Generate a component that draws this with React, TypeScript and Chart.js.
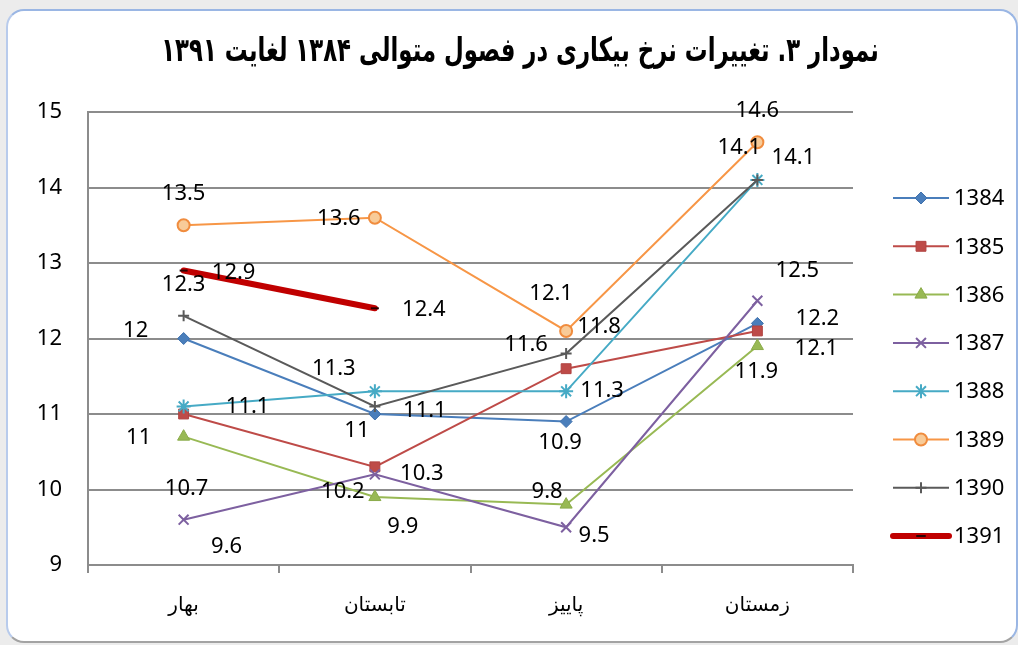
import React, { useEffect, useRef } from 'react';
import { Chart, registerables } from 'chart.js';

Chart.register(...registerables);

// ---------- data ----------
const TITLE = 'نمودار ۳. تغییرات نرخ بیکاری در فصول متوالی ۱۳۸۴ لغایت ۱۳۹۱';
const CATEGORIES = ['بهار', 'تابستان', 'پاییز', 'زمستان'];
const SERIES_NAMES = ['1384', '1385', '1386', '1387', '1388', '1389', '1390', '1391'];
const S1384 = [12, 11, 10.9, 12.2];
const S1385 = [11, 10.3, 11.6, 12.1];
const S1386 = [10.7, 9.9, 9.8, 11.9];
const S1387 = [9.6, 10.2, 9.5, 12.5];
const S1388 = [11.1, 11.3, 11.3, 14.1];
const S1389 = [13.5, 13.6, 12.1, 14.6];
const S1390 = [12.3, 11.1, 11.8, 14.1];
const S1391 = [12.9, 12.4, null, null];
const Y_MIN = 9;
const Y_MAX = 15;
const Y_STEP = 1;

const SERIES_VALUES = [S1384, S1385, S1386, S1387, S1388, S1389, S1390, S1391];

// ---------- styles ----------
const LINE_COLORS = ['#4a7ebb', '#be4b48', '#98b954', '#7d60a0', '#46aac5', '#f79646', '#5a5a5a', '#c00000'];
const POINT_FILLS = ['#4a7ebb', '#be4b48', '#98b954', '#7d60a0', '#46aac5', '#f8cb98', '#5a5a5a', '#2a0000'];
const POINT_STROKES = ['#3f71ad', '#b04340', '#8aab49', '#7d60a0', '#46aac5', '#f08c3e', '#5a5a5a', '#2a0000'];
const POINT_STYLES = ['rectRot', 'rect', 'triangle', 'crossRot', 'star', 'circle', 'cross', 'line'];
const POINT_RADII = [6, 7, 7, 7, 7, 6, 5.5, 4];
const POINT_BORDER = [1, 1, 1, 2, 2, 2, 2, 2];
const LINE_WIDTHS = [2, 2, 2, 2, 2, 2, 2, 6];

// data-label offsets (dx, dy) relative to each point, in px
const LABEL_OFFSETS: number[][][] = [
  [[-48, -8], [-18, 17], [-6, 21], [60, -5]],
  [[-45, 24], [47, 7], [-40, -24], [59, 18]],
  [[3, 52], [28, 30], [-19, -13], [-1, 26]],
  [[43, 27], [-32, 17], [28, 8], [40, -30]],
  [[64, 0], [-41, -23], [36, -1], [36, -22]],
  [[0, -32], [-36, 1], [-15, -37], [0, -31]],
  [[0, -31], [50, 4], [33, -27], [-18, -32]],
  [[50, 2], [49, 1]],
];

const NUM_FONT = '"Noto Sans", "Open Sans", sans-serif';
const FA_FONT = '"DejaVu Sans", sans-serif';
const TITLE_FONT = '"DejaVu Sans Condensed", "DejaVu Sans", sans-serif';
const GRID_COLOR = '#8c8c8c';

function drawMarker(ctx: CanvasRenderingContext2D, style: string, x: number, y: number, r: number, fill: string, stroke: string, bw: number) {
  ctx.save();
  ctx.fillStyle = fill;
  ctx.strokeStyle = stroke;
  ctx.lineWidth = bw;
  ctx.beginPath();
  const c = Math.SQRT1_2 * r;
  switch (style) {
    case 'rectRot':
      ctx.moveTo(x, y - r); ctx.lineTo(x + r, y); ctx.lineTo(x, y + r); ctx.lineTo(x - r, y); ctx.closePath();
      ctx.fill(); ctx.stroke(); break;
    case 'rect':
      ctx.rect(x - c, y - c, 2 * c, 2 * c); ctx.fill(); ctx.stroke(); break;
    case 'triangle':
      ctx.moveTo(x, y - r); ctx.lineTo(x + r * 0.866, y + r * 0.5); ctx.lineTo(x - r * 0.866, y + r * 0.5); ctx.closePath();
      ctx.fill(); ctx.stroke(); break;
    case 'crossRot':
      ctx.moveTo(x - c, y - c); ctx.lineTo(x + c, y + c); ctx.moveTo(x + c, y - c); ctx.lineTo(x - c, y + c); ctx.stroke(); break;
    case 'star':
      ctx.moveTo(x - c, y - c); ctx.lineTo(x + c, y + c); ctx.moveTo(x + c, y - c); ctx.lineTo(x - c, y + c);
      ctx.moveTo(x, y - r); ctx.lineTo(x, y + r); ctx.stroke(); break;
    case 'circle':
      ctx.arc(x, y, r, 0, Math.PI * 2); ctx.fill(); ctx.stroke(); break;
    case 'cross':
      ctx.moveTo(x - r, y); ctx.lineTo(x + r, y); ctx.moveTo(x, y - r); ctx.lineTo(x, y + r); ctx.stroke(); break;
    case 'line':
      ctx.moveTo(x - r, y); ctx.lineTo(x + r, y); ctx.stroke(); break;
  }
  ctx.restore();
}

const titlePlugin = {
  id: 'customTitle',
  afterDraw(chart: any) {
    const ctx: CanvasRenderingContext2D = chart.ctx;
    ctx.save();
    (ctx as any).direction = 'rtl';
    ctx.textAlign = 'center';
    ctx.textBaseline = 'middle';
    ctx.fillStyle = '#000';
    let size = 28;
    ctx.font = `bold ${size}px ${TITLE_FONT}`;
    const w = ctx.measureText(TITLE).width;
    size = Math.max(18, Math.min(36, (size * 718) / w));
    ctx.font = `bold ${size}px ${TITLE_FONT}`;
    ctx.translate(520, 52);
    ctx.scale(1, 1.3);
    ctx.fillText(TITLE, 0, 0);
    ctx.restore();
  },
};

const labelPlugin = {
  id: 'dataLabels',
  afterDatasetsDraw(chart: any) {
    const ctx: CanvasRenderingContext2D = chart.ctx;
    ctx.save();
    ctx.font = `22px ${NUM_FONT}`;
    ctx.fillStyle = '#000';
    ctx.textAlign = 'center';
    ctx.textBaseline = 'middle';
    chart.data.datasets.forEach((ds: any, i: number) => {
      const meta = chart.getDatasetMeta(i);
      meta.data.forEach((pt: any, j: number) => {
        const v = ds.data[j];
        if (v === null || v === undefined) return;
        const off = (LABEL_OFFSETS[i] && LABEL_OFFSETS[i][j]) || [0, -20];
        ctx.fillText(String(v), pt.x + off[0], pt.y + off[1]);
      });
    });
    ctx.restore();
  },
};

const legendPlugin = {
  id: 'customLegend',
  afterDraw(chart: any) {
    const ctx: CanvasRenderingContext2D = chart.ctx;
    ctx.save();
    const x0 = 893, x1 = 949, tx = 954, y0 = 198, dy = 48.3;
    SERIES_NAMES.forEach((name, i) => {
      const y = y0 + i * dy;
      ctx.beginPath();
      ctx.strokeStyle = LINE_COLORS[i];
      ctx.lineWidth = LINE_WIDTHS[i];
      ctx.lineCap = i === 7 ? 'round' : 'butt';
      ctx.moveTo(x0, y);
      ctx.lineTo(x1, y);
      ctx.stroke();
      drawMarker(ctx, POINT_STYLES[i], (x0 + x1) / 2, y, POINT_RADII[i], POINT_FILLS[i], POINT_STROKES[i], POINT_BORDER[i]);
      ctx.fillStyle = '#000';
      ctx.font = `22px ${NUM_FONT}`;
      ctx.textAlign = 'left';
      ctx.textBaseline = 'middle';
      ctx.fillText(name, tx, y + 1);
    });
    ctx.restore();
  },
};

export default function App() {
  const ref = useRef<HTMLCanvasElement | null>(null);

  useEffect(() => {
    if (!ref.current) return;
    const datasets = SERIES_VALUES.map((vals, i) => ({
      label: SERIES_NAMES[i],
      data: vals,
      borderColor: LINE_COLORS[i],
      backgroundColor: POINT_FILLS[i],
      borderWidth: LINE_WIDTHS[i],
      borderCapStyle: i === 7 ? 'round' : 'butt',
      pointStyle: POINT_STYLES[i],
      pointRadius: POINT_RADII[i],
      pointBackgroundColor: POINT_FILLS[i],
      pointBorderColor: POINT_STROKES[i],
      pointBorderWidth: POINT_BORDER[i],
      tension: 0,
      fill: false,
      spanGaps: false,
      order: SERIES_NAMES.length - i,
    }));

    const chart = new Chart(ref.current, {
      type: 'line',
      data: { labels: CATEGORIES, datasets: datasets as any },
      options: {
        responsive: false,
        animation: false,
        events: [],
        layout: { padding: { left: 0, top: 112, right: 165, bottom: 0 } },
        plugins: {
          legend: { display: false },
          title: { display: false },
          tooltip: { enabled: false },
        },
        scales: {
          x: {
            type: 'category',
            offset: true,
            grid: {
              offset: true,
              drawOnChartArea: false,
              drawTicks: true,
              tickLength: 8,
              color: GRID_COLOR,
              lineWidth: 2,
            },
            border: { display: true, color: GRID_COLOR, width: 2 },
            ticks: {
              color: '#000',
              font: { family: FA_FONT, size: 20 },
              padding: 21,
              maxRotation: 0,
              autoSkip: false,
            },
            afterFit(scale: any) {
              scale.height = 80;
            },
          },
          y: {
            min: Y_MIN,
            max: Y_MAX,
            ticks: {
              stepSize: Y_STEP,
              color: '#000',
              font: { family: NUM_FONT, size: 22 },
              padding: 26,
            },
            grid: {
              color: GRID_COLOR,
              lineWidth: 2,
              drawTicks: false,
            },
            border: { display: true, color: GRID_COLOR, width: 2 },
            afterFit(scale: any) {
              scale.width = 88;
            },
          },
        },
      },
      plugins: [titlePlugin, labelPlugin, legendPlugin],
    });
    return () => chart.destroy();
  }, []);

  return (
    <div style={{ position: 'fixed', left: 0, top: 0, width: 1018, height: 645, background: '#ececec', overflow: 'hidden' }}>
      <div
        style={{
          position: 'absolute',
          left: 6,
          top: 9,
          width: 1008,
          height: 630,
          borderTop: '2px solid #9ab6e4',
          borderLeft: '2px solid #b8cbec',
          borderRight: '2px solid #9ab6e4',
          borderBottom: '2px solid #a3a3a3',
          borderRadius: 18,
          background: '#fff',
        }}
      />
      <canvas
        ref={ref}
        width={1018}
        height={645}
        style={{ position: 'absolute', left: 0, top: 0, width: 1018, height: 645 }}
      />
    </div>
  );
}
